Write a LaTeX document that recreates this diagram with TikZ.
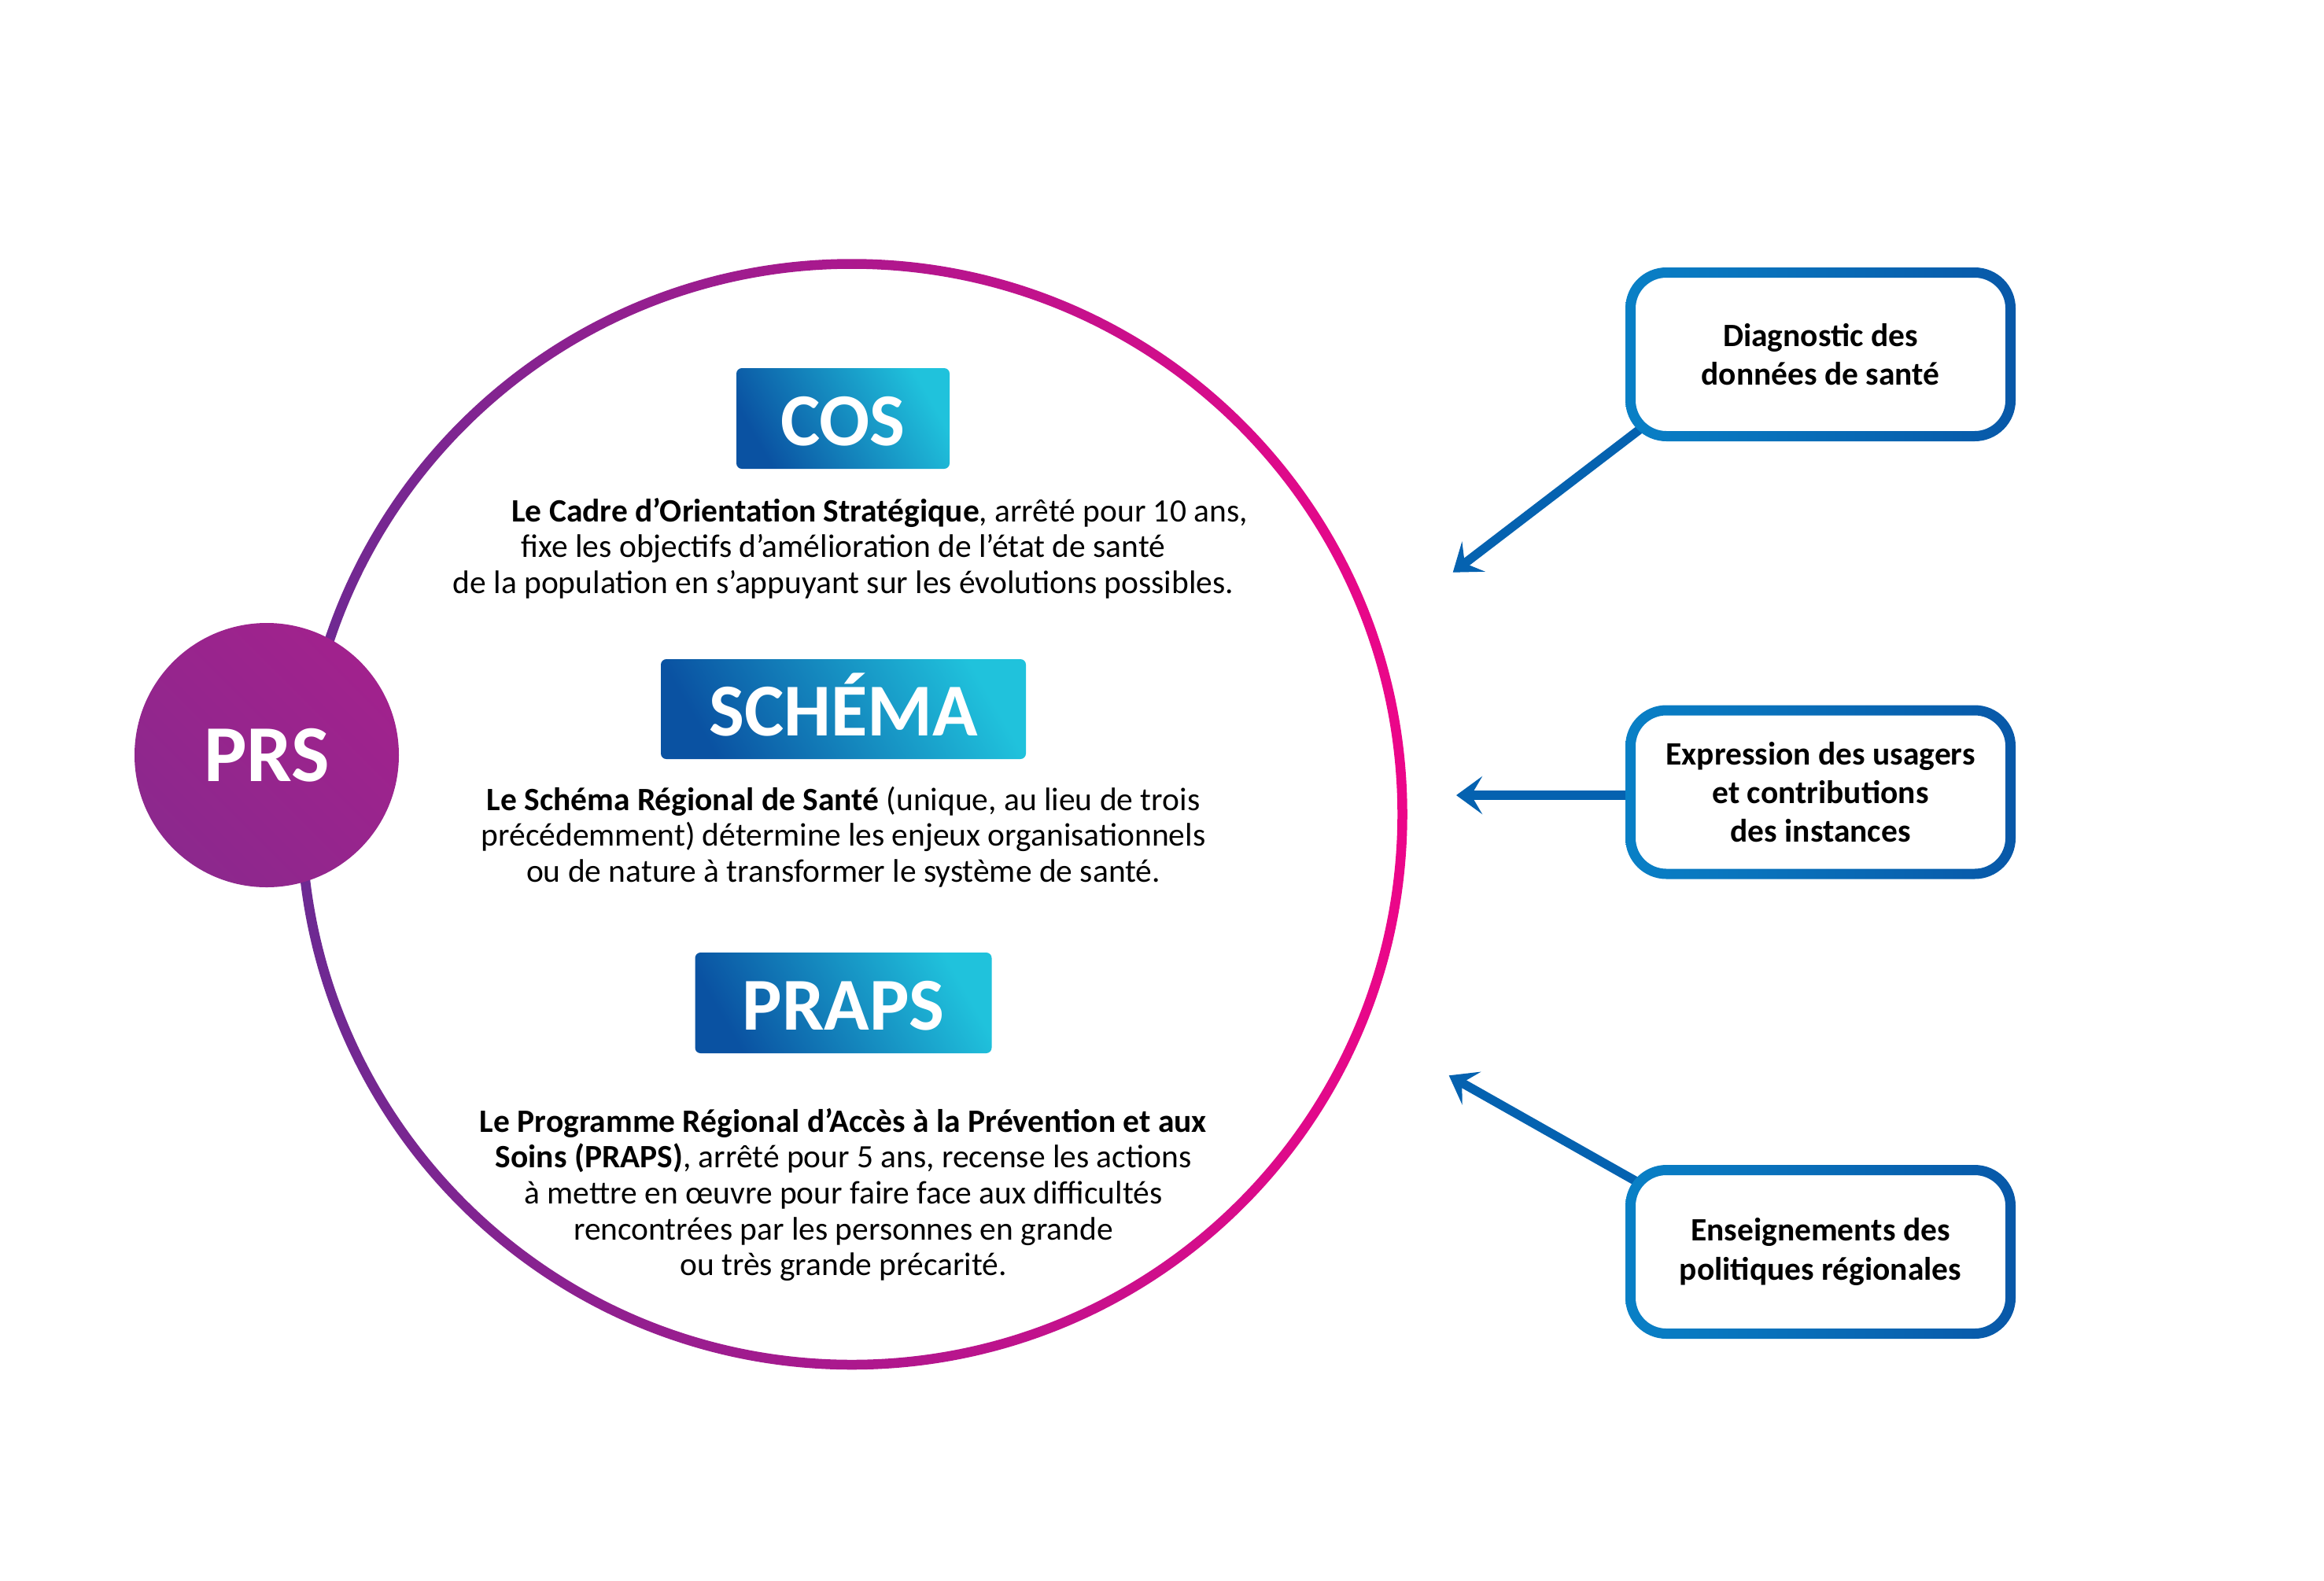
\documentclass[tikz,border=0pt]{standalone}
\usepackage{fontspec}
\setmainfont{Carlito}
\usetikzlibrary{arrows.meta, calc, positioning}
\definecolor{ringpurple}{HTML}{6C2A92}
\definecolor{ringpink}{HTML}{EC0689}
\definecolor{prsdark}{HTML}{8C288D}
\definecolor{prslight}{HTML}{A1228D}
\definecolor{titledark}{HTML}{0A52A2}
\definecolor{titlecyan}{HTML}{20C2DC}
\definecolor{boxblueL}{HTML}{0980C6}
\definecolor{boxblueR}{HTML}{0858A8}
\definecolor{arrowblue}{HTML}{0562B0}

\begin{document}
\begin{tikzpicture}[line cap=round,line join=round,x=1cm,y=1cm,
  titlebox/.style={rounded corners=0.07cm, inner sep=0pt, text=white,
    text height=19.6pt, text depth=0pt,
    font=\fontsize{27}{31}\selectfont\bfseries,
    top color=titlecyan, bottom color=titledark, shading angle=-60},
  bodytext/.style={align=center, text=black, font=\fontsize{11.8}{13}\selectfont},
  sourcebox/.style={rounded corners=0.455cm, fill=white, outer sep=0pt, minimum width=4.83cm,
    minimum height=2.08cm, align=center, font=\fontsize{11.8}{14}\selectfont\bfseries},
  feed/.style={arrowblue, line width=0.115cm, line cap=butt,
    -{Stealth[length=0.33cm, width=0.48cm, inset=0.14cm]}}]
\useasboundingbox (0,0) rectangle (29.54,-20.09);

% Ring
\coordinate (O) at (10.8275,-10.3525);
\path [left color=ringpurple, right color=ringpink, even odd rule]
  (O) circle (7.06) (O) circle (6.935);

% PRS disc
\node [circle, minimum size=3.36cm, inner sep=0pt, text=white,
  top color=prslight, bottom color=prsdark, shading angle=-45,
  font=\fontsize{29.2}{33}\selectfont\bfseries] (prs) at (3.39,-9.60) {PRS};

% Title boxes
\node [titlebox, minimum width=2.71cm, minimum height=1.28cm] (cos) at (10.715,-5.32) {COS};
\node [titlebox, minimum width=4.64cm, minimum height=1.27cm] (schema) at (10.72,-9.015) {SCHÉMA};
\node [titlebox, minimum width=3.77cm, minimum height=1.28cm] (praps) at (10.72,-12.75) {PRAPS};

% Texts
\node [bodytext] (cosText) at (10.72,-6.97)
  {\hspace*{0.92cm}\textbf{Le Cadre d’Orientation Stratégique}, arrêté pour 10 ans,\\
   fixe les objectifs d’amélioration de l’état de santé\\
   de la population en s’appuyant sur les évolutions possibles.};
\node [bodytext] (schemaText) at (10.72,-10.64)
  {\textbf{Le Schéma Régional de Santé} (unique, au lieu de trois\\
   précédemment) détermine les enjeux organisationnels\\
   ou de nature à transformer le système de santé.};
\node [bodytext] (prapsText) at (10.72,-15.19)
  {\textbf{Le Programme Régional d’Accès à la Prévention et aux}\\
   \textbf{Soins (PRAPS)}, arrêté pour 5 ans, recense les actions\\
   à mettre en œuvre pour faire face aux difficultés\\
   rencontrées par les personnes en grande\\
   ou très grande précarité.};

% Source boxes
\node [sourcebox] (diag) at (23.14,-4.505) {Diagnostic des\\données de santé};
\node [sourcebox] (expr) at (23.14,-10.07) {Expression des usagers\\et contributions\\des instances};
\node [sourcebox] (ens) at (23.14,-15.915) {Enseignements des\\politiques régionales};

% Arrows
\coordinate (tipDiag) at (18.467,-7.277);
\coordinate (tipExpr) at (18.51,-10.11);
\coordinate (tipEns) at (18.417,-13.673);
\draw [feed] ([shift={(0.155,0.115)}]diag.south west) -- (tipDiag);
\draw [feed] (expr.west |- tipExpr) -- (tipExpr);
\draw [feed] ([shift={(0.106,-0.163)}]ens.north west) -- (tipEns);

% Borders
\foreach \b in {diag,expr,ens}
\path [left color=boxblueL, right color=boxblueR, even odd rule]
  [rounded corners=0.52cm] ([shift={(-0.065,-0.065)}]\b.south west) rectangle ([shift={(0.065,0.065)}]\b.north east)
  [rounded corners=0.39cm] ([shift={(0.065,0.065)}]\b.south west) rectangle ([shift={(-0.065,-0.065)}]\b.north east);
\end{tikzpicture}
\end{document}
